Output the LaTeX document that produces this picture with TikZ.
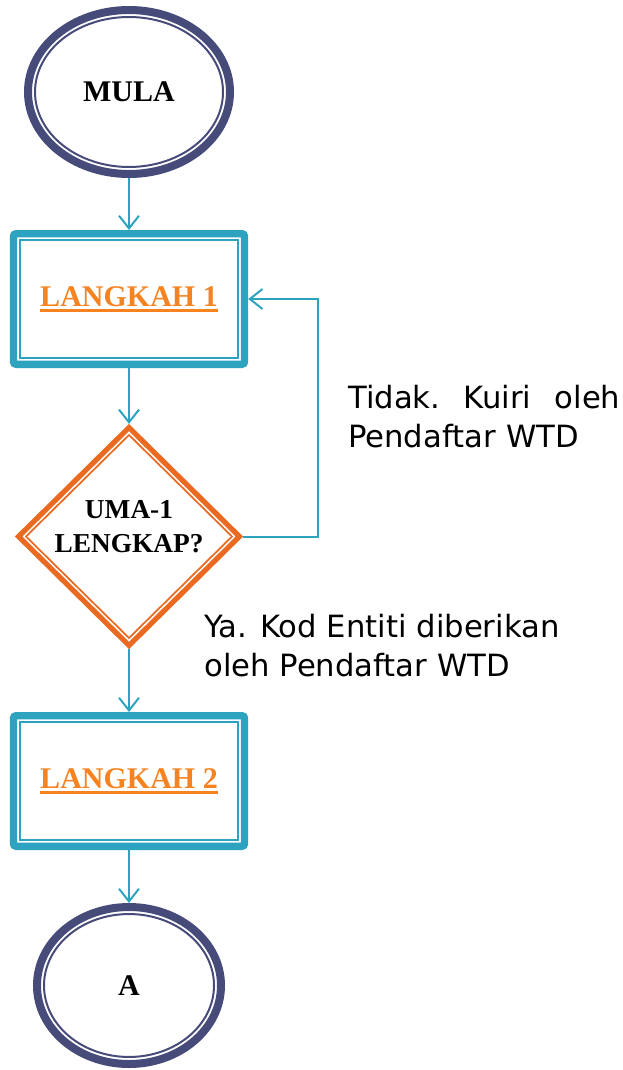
\documentclass[tikz,border=0pt]{standalone}
\usepackage{fontspec}
\setmainfont{Liberation Serif}
\newfontfamily\notefont{DejaVu Sans}
\usetikzlibrary{shapes.geometric,arrows.meta,calc}
\definecolor{termblue}{RGB}{70,75,122}
\definecolor{flowteal}{RGB}{46,163,191}
\definecolor{steporange}{RGB}{246,130,32}
\definecolor{decorange}{RGB}{234,106,34}
\newcommand{\steplabel}[1]{\setbox0\hbox{#1}\rlap{\rule[-4pt]{\wd0}{1.6pt}}\box0}

\begin{document}
\begin{tikzpicture}
  [x=0.75pt,y=0.75pt,
   every node/.style={font=\fontsize{22.5}{26.5}\selectfont\bfseries},
   term/.style={ellipse,draw=termblue,line width=6pt,inner sep=0pt},
   stepbox/.style={rectangle,draw=flowteal,line width=5.6pt,rounded corners=2pt,
     minimum width=173.25pt,minimum height=97.9pt,text=steporange},
   decision/.style={diamond,draw=decorange,line width=3.9pt,line join=miter,
     minimum width=167.25pt,minimum height=165pt,inner sep=0pt},
   flow/.style={draw=flowteal,line width=1.5pt,
     -{Straight Barb[length=9.5pt,width=15pt]}},
   note/.style={font=\notefont\fontsize{23}{29.25}\selectfont,inner sep=0pt}]
  \useasboundingbox (0,0) rectangle (623,-1070);

  \node[term,minimum width=151.5pt,minimum height=123pt] (mula) at (129,-92) {MULA};
  \node[stepbox] (lk1) at (129,-299) {\steplabel{LANGKAH 1}};
  \node[decision] (dec) at (129,-536.5) {};
  \node[align=center,font=\fontsize{20.5}{26}\selectfont\bfseries] (dectext)
    at ($(dec.center)+(0,10)$) {UMA-1\\LENGKAP?};
  \node[stepbox] (lk2) at (129,-781) {\steplabel{LANGKAH 2}};
  \node[term,minimum width=138pt,minimum height=117.75pt] (a) at (129,-985.5) {A};
  \coordinate (loopx) at (318,-299);

  % inner lines
  \draw[termblue,line width=1.5pt] (mula.center) ellipse [x radius=70.5pt,y radius=56.25pt];
  \draw[termblue,line width=1.5pt] (a.center) ellipse [x radius=63.75pt,y radius=53.6pt];
  \draw[flowteal,line width=1.5pt] ($(lk1.north west)+(10,-10)$) rectangle ($(lk1.south east)+(-10,10)$);
  \draw[flowteal,line width=1.5pt] ($(lk2.north west)+(10,-10)$) rectangle ($(lk2.south east)+(-10,10)$);
  \draw[decorange,line width=1.3pt] ($(dec.center)+(-103,0)$) -- ($(dec.center)+(0,101.5)$)
    -- ($(dec.center)+(103,0)$) -- ($(dec.center)+(0,-101.5)$) -- cycle;

  \draw[flow] (mula) -- (lk1);
  \draw[flow] (lk1) -- (dec);
  \draw[flow] (dec) -- (lk2);
  \draw[flow] (lk2) -- (a);
  \draw[flow] (dec.east) -- (dec.east -| loopx) |- (lk1.east);

  \node[note,text width=204pt,align=left,anchor=north west] (tidak) at (348,-384.5)
    {Tidak.\hfill Kuiri\hfill oleh\\Pendaftar WTD};
  \node[note,align=left,anchor=north west] (ya) at (204,-613.5)
    {Ya. Kod Entiti diberikan\\oleh Pendaftar WTD};
\end{tikzpicture}
\end{document}
